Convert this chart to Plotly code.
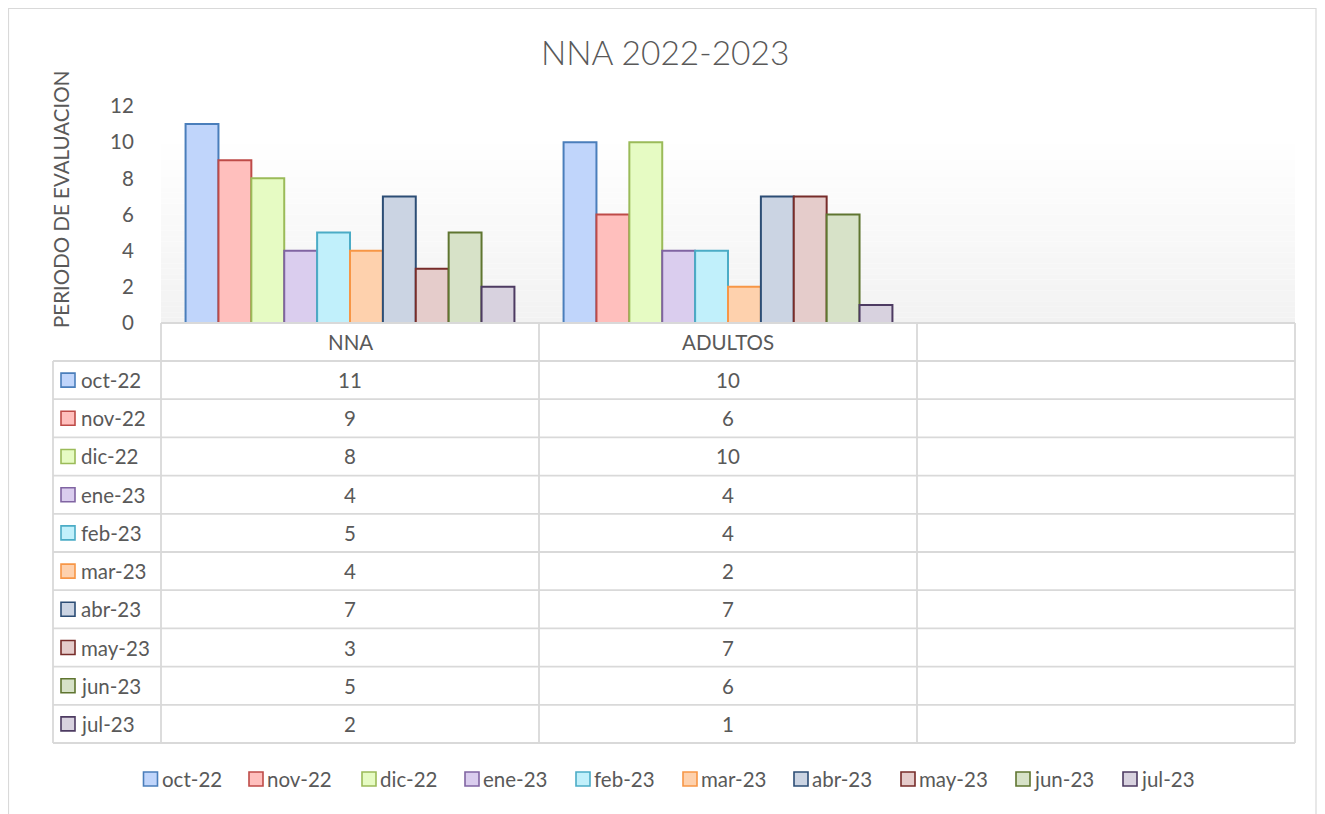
import plotly.graph_objects as go

# ---------------- data ----------------
categories = ["NNA", "ADULTOS", ""]
months = ["oct-22", "nov-22", "dic-22", "ene-23", "feb-23",
          "mar-23", "abr-23", "may-23", "jun-23", "jul-23"]
nna = [11, 9, 8, 4, 5, 4, 7, 3, 5, 2]
adultos = [10, 6, 10, 4, 4, 2, 7, 7, 6, 1]
y_ticks = [0, 2, 4, 6, 8, 10, 12]
title_text = "NNA 2022-2023"
y_title = "PERIODO DE EVALUACION"

# ---------------- styles ----------------
line_colors = ["#4a7ebb", "#be4b48", "#9bbb59", "#8064a2", "#4bacc6",
               "#f79646", "#2c4d75", "#772c2a", "#5f7530", "#4d3b62"]
fill_colors = ["#c0d5fb", "#ffbfbd", "#e6fbc3", "#dacdee", "#c1f0fb",
               "#fed1ad", "#cbd4e3", "#e5cccb", "#d7e2c8", "#d8d2df"]
TXT = "#595959"
GRID = "#d9d9d9"
FONT = "Lato"
FS = 20.5

OFF = 8  # page body margin
W, H = 1325 - 2 * OFF, 814 - OFF
L, R, T, B = 161, 1295, 106, 323  # plot area in page pixels


def px(x):
    return (x - L) / (R - L)


def py(y):
    return (B - y) / (B - T)


series = [[nna[j], adultos[j]] for j in range(len(months))]

fig = go.Figure()
for j, m in enumerate(months):
    fig.add_trace(go.Bar(
        x=[0, 1], y=series[j], name=m, showlegend=False,
        marker=dict(color=fill_colors[j], line=dict(color=line_colors[j], width=2)),
    ))

shapes = []
annotations = []

# plot-area gradient background (white top -> light gray bottom)
nb = 40
for k in range(nb):
    f0, f1 = k / nb, (k + 1) / nb
    fm = (f0 + f1) / 2
    v = 242 + (255 - 242) * min(1.0, fm / 0.85)
    c = int(round(v))
    shapes.append(dict(type="rect", xref="paper", yref="paper", x0=0, x1=1, y0=f0, y1=f1,
                       fillcolor=f"rgb({c},{c},{c})", line=dict(width=0), layer="below"))

# outer chart border
shapes.append(dict(type="rect", xref="paper", yref="paper", x0=px(8.5), x1=px(1316),
                   y0=py(840), y1=py(8.5), line=dict(color=GRID, width=1.2), fillcolor="rgba(0,0,0,0)"))

# data table
ncol = len(categories)
col_w = (R - L) / ncol
col_x = [L + i * col_w for i in range(ncol + 1)]
head_top, head_bot = 323, 361
row_h = 38.2
n_rows = len(months)
table_bot = head_bot + n_rows * row_h
left_x = 53


def hline(y, x0, x1):
    shapes.append(dict(type="line", xref="paper", yref="paper", x0=px(x0), x1=px(x1),
                       y0=py(y), y1=py(y), line=dict(color=GRID, width=1.8)))


def vline(x, y0, y1):
    shapes.append(dict(type="line", xref="paper", yref="paper", x0=px(x), x1=px(x),
                       y0=py(y0), y1=py(y1), line=dict(color=GRID, width=1.8)))


hline(head_top, L, R)
for k in range(n_rows + 1):
    hline(head_bot + k * row_h, left_x, R)
vline(left_x, head_bot, table_bot)
for xc in col_x:
    vline(xc, head_top, table_bot)

tfont = dict(family=FONT, size=FS, color=TXT)
for i, cat in enumerate(categories):
    if cat:
        annotations.append(dict(text=cat, x=px((col_x[i] + col_x[i + 1]) / 2), y=py((head_top + head_bot) / 2),
                                xref="paper", yref="paper", showarrow=False, font=tfont,
                                xanchor="center", yanchor="middle"))

for j, m in enumerate(months):
    yc = head_bot + (j + 0.5) * row_h
    shapes.append(dict(type="rect", xref="paper", yref="paper", x0=px(61), x1=px(75),
                       y0=py(yc + 7), y1=py(yc - 7), fillcolor=fill_colors[j],
                       line=dict(color=line_colors[j], width=1.6)))
    annotations.append(dict(text=m, x=px(79), y=py(yc), xref="paper", yref="paper",
                            showarrow=False, font=tfont, xanchor="left", yanchor="middle"))
    for i, v in enumerate(series[j]):
        annotations.append(dict(text=str(v), x=px((col_x[i] + col_x[i + 1]) / 2), y=py(yc),
                                xref="paper", yref="paper", showarrow=False, font=tfont,
                                xanchor="center", yanchor="middle"))

# bottom legend
leg_x = [143.5, 249, 362, 465, 576, 683, 794, 901, 1016, 1123]
leg_y = 779
for j, m in enumerate(months):
    x0 = leg_x[j]
    shapes.append(dict(type="rect", xref="paper", yref="paper", x0=px(x0), x1=px(x0 + 14),
                       y0=py(leg_y + 7), y1=py(leg_y - 7), fillcolor=fill_colors[j],
                       line=dict(color=line_colors[j], width=1.6)))
    annotations.append(dict(text=m, x=px(x0 + 16), y=py(leg_y), xref="paper", yref="paper",
                            showarrow=False, font=tfont, xanchor="left", yanchor="middle"))

# title & axis title
annotations.append(dict(text=title_text, x=px(665), y=py(52), xref="paper", yref="paper",
                        showarrow=False, xanchor="center", yanchor="middle",
                        font=dict(family=FONT, size=33.5, color=TXT, weight=300)))
annotations.append(dict(text=y_title, x=px(61), y=py(200), xref="paper", yref="paper",
                        showarrow=False, xanchor="center", yanchor="middle", textangle=-90,
                        font=dict(family=FONT, size=FS, color=TXT)))

fig.update_layout(
    width=W, height=H, autosize=False,
    margin=dict(l=L - OFF, r=W - (R - OFF), t=T - OFF, b=H - (B - OFF), pad=0),
    paper_bgcolor="white", plot_bgcolor="white",
    barmode="group", bargap=0.13, bargroupgap=0,
    showlegend=False,
    xaxis=dict(range=[-0.5, 2.5], visible=False, fixedrange=True),
    yaxis=dict(range=[0, 12], tickvals=y_ticks, showgrid=False, zeroline=False, showline=False,
               ticks="outside", ticklen=22, tickcolor="rgba(0,0,0,0)",
               tickfont=dict(family=FONT, size=FS, color=TXT), fixedrange=True),
    shapes=shapes, annotations=annotations,
)

fig.write_html("out.html")
